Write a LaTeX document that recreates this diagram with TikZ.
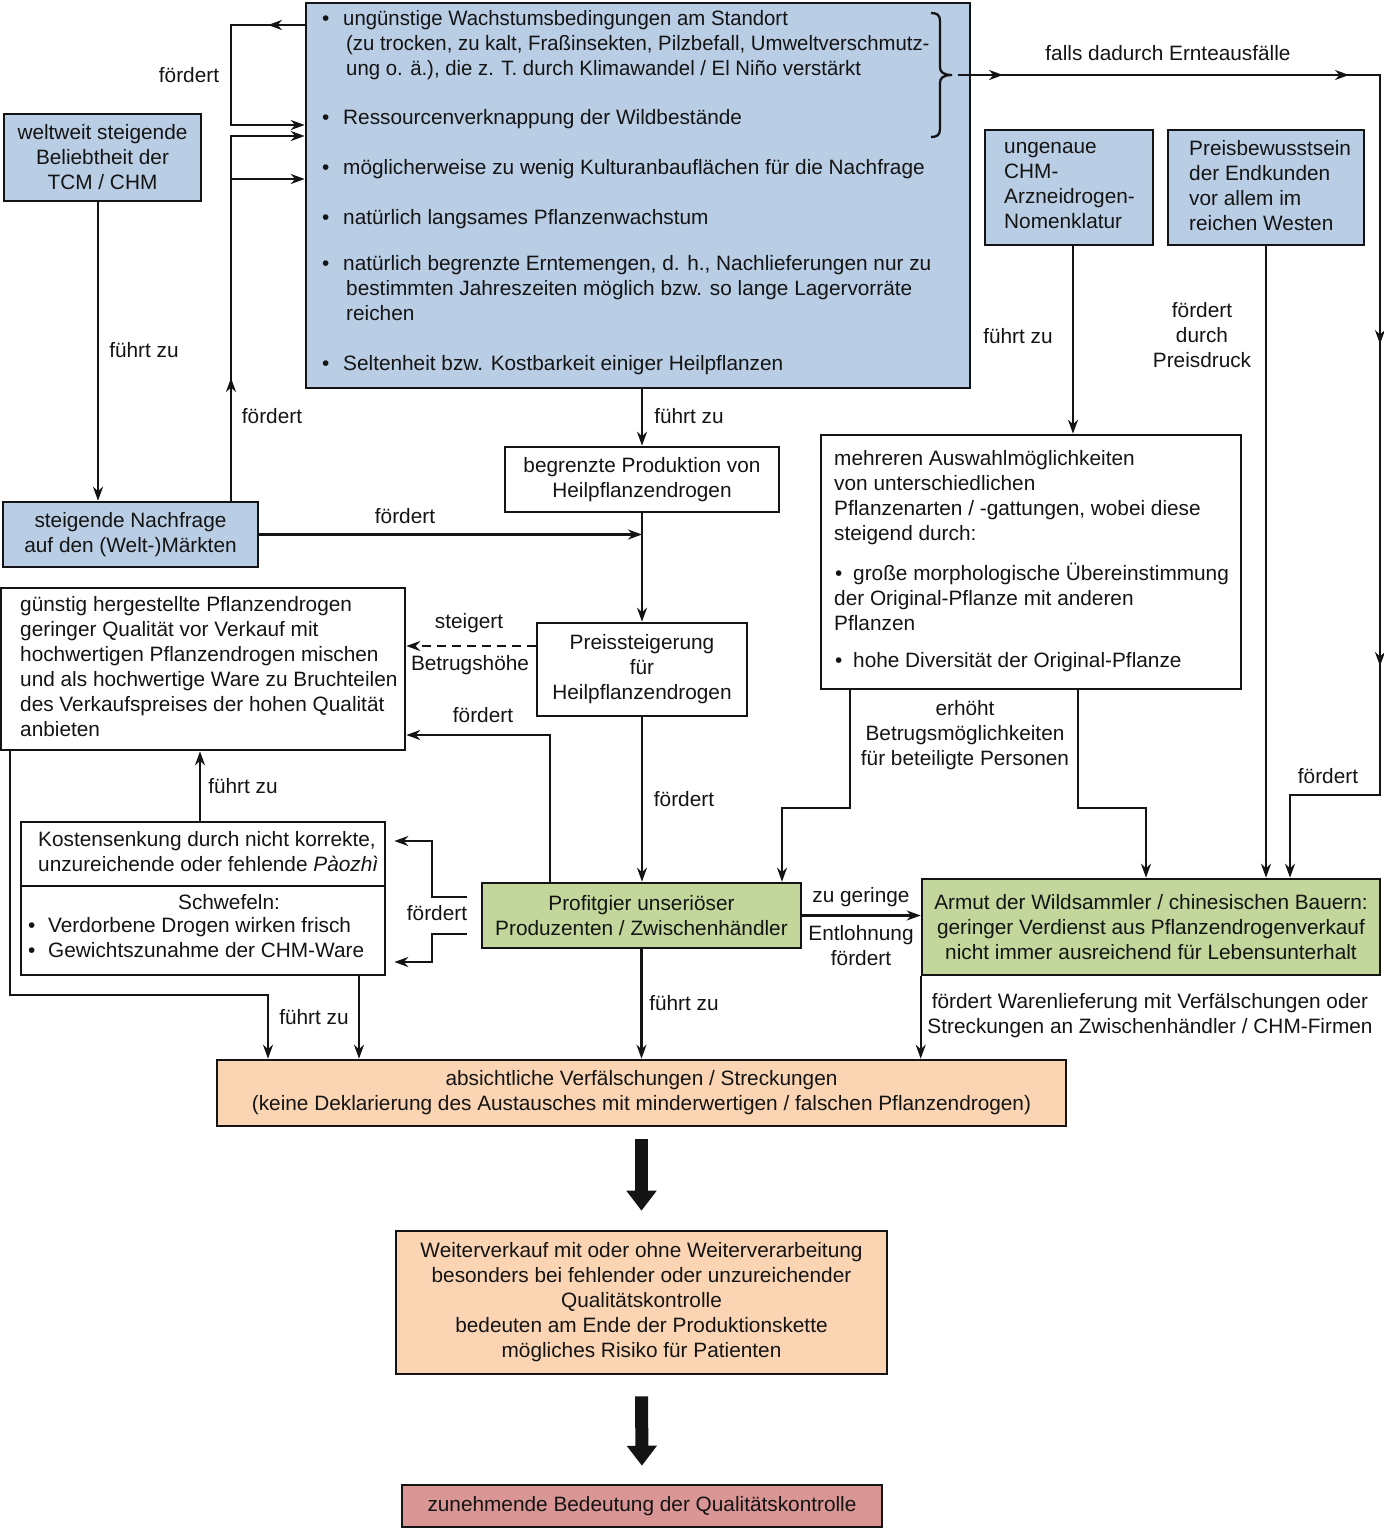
\documentclass[tikz,border=0pt]{standalone}
\usepackage{fontspec}
\setmainfont{Liberation Sans}
\usetikzlibrary{arrows.meta}
\definecolor{bblue}{HTML}{B9CDE5}
\definecolor{bgreen}{HTML}{C3D69B}
\definecolor{bpeach}{HTML}{FBD4B4}
\definecolor{bred}{HTML}{D99694}
\definecolor{ink}{HTML}{141414}
\newcommand\myfs{\fontsize{20.8}{25}\selectfont}
\newcommand\sq[1]{\scalebox{0.978}[1]{#1}}
\begin{document}
\begin{tikzpicture}[x=1pt,y=-1pt,
  box/.style={draw=ink, line width=2.6pt, inner sep=0pt, align=center, font=\myfs, text=ink},
  tl/.style={font=\myfs, inner sep=0pt, anchor=west, text height=14pt, text depth=4pt, text=ink},
  lbl/.style={font=\myfs, inner sep=0pt, align=center, text=ink},
  blk/.style={font=\myfs, inner sep=0pt, align=left, anchor=west, text=ink},
  arr/.style={draw=ink, line width=2.3pt, -{Stealth[length=14pt,width=10pt]}},
  ln/.style={draw=ink, line width=2.3pt},
  bigarr/.style={draw=ink, line width=13pt, -{Triangle[length=20pt,width=29pt]}}
]
\useasboundingbox (0,0) rectangle (1384,1529);

% ---------- boxes ----------
\node[box,fill=bblue,minimum width=664pt,minimum height=385pt] (top) at (638,195.5) {};
\node[box,fill=bblue,minimum width=197pt,minimum height=87pt] (welt) at (102.5,157.5) {weltweit steigende\\Beliebtheit der\\TCM / CHM};
\node[box,fill=bblue,minimum width=255pt,minimum height=65pt] (nach) at (130.5,534.5) {steigende Nachfrage\\auf den (Welt-)Märkten};
\node[box,fill=white,minimum width=274pt,minimum height=65pt] (begr) at (642,479.5) {begrenzte Produktion von\\Heilpflanzendrogen};
\node[box,fill=white,minimum width=210pt,minimum height=93pt] (preis) at (642,669.5) {Preissteigerung\\für\\Heilpflanzendrogen};
\node[box,fill=white,minimum width=404pt,minimum height=162pt] (guen) at (203,669) {};
\node[box,fill=white,minimum width=364pt,minimum height=153pt] (kost) at (203,898.5) {};
\node[box,fill=bgreen,minimum width=319pt,minimum height=65pt] (prof) at (641.5,915.5) {Profitgier unseriöser\\Produzenten / Zwischenhändler};
\node[box,fill=bgreen,minimum width=458pt,minimum height=96pt] (armut) at (1151,927) {Armut der Wildsammler / chinesischen Bauern:\\geringer Verdienst aus Pflanzendrogenverkauf\\nicht immer ausreichend für Lebensunterhalt};
\node[box,fill=bblue,minimum width=168pt,minimum height=115pt] (ungen) at (1069,187.5) {};
\node[box,fill=bblue,minimum width=196pt,minimum height=115pt] (pbew) at (1266,187.5) {};
\node[box,fill=white,minimum width=420pt,minimum height=254pt] (mehr) at (1031,562) {};
\node[box,fill=bpeach,minimum width=849pt,minimum height=66pt] (absi) at (641.5,1093) {absichtliche Verfälschungen / Streckungen\\(keine Deklarierung des Austausches mit minderwertigen / falschen Pflanzendrogen)};
\node[box,fill=bpeach,minimum width=491pt,minimum height=143pt] (weit) at (641.5,1302.5) {Weiterverkauf mit oder ohne Weiterverarbeitung\\besonders bei fehlender oder unzureichender\\Qualitätskontrolle\\bedeuten am Ende der Produktionskette\\mögliches Risiko für Patienten};
\node[box,fill=bred,minimum width=480pt,minimum height=42pt] (zun) at (642,1506) {zunehmende Bedeutung der Qualitätskontrolle};

% ---------- text in top box ----------
\node[tl] (b1) at (322,20) {\textbullet};
\node[tl] (t1a) at (343,20) {\sq{ungünstige Wachstumsbedingungen am Standort}};
\node[tl] (t1b) at (346,45) {\sq{(zu trocken, zu kalt, Fraßinsekten, Pilzbefall, Umweltverschmutz-}};
\node[tl] (t1c) at (346,70) {\sq{ung o. ä.), die z. T. durch Klimawandel / El Niño verstärkt}};
\node[tl] (b2) at (322,119) {\textbullet};
\node[tl] (t2) at (343,119) {Ressourcenverknappung der Wildbestände};
\node[tl] (b3) at (322,169) {\textbullet};
\node[tl] (t3) at (343,169) {möglicherweise zu wenig Kulturanbauflächen für die Nachfrage};
\node[tl] (b4) at (322,219) {\textbullet};
\node[tl] (t4) at (343,219) {natürlich langsames Pflanzenwachstum};
\node[tl] (b5) at (322,265) {\textbullet};
\node[tl] (t5a) at (343,265) {natürlich begrenzte Erntemengen, d. h., Nachlieferungen nur zu};
\node[tl] (t5b) at (346,290) {bestimmten Jahreszeiten möglich bzw. so lange Lagervorräte};
\node[tl] (t5c) at (346,315) {reichen};
\node[tl] (b6) at (322,365) {\textbullet};
\node[tl] (t6) at (343,365) {Seltenheit bzw. Kostbarkeit einiger Heilpflanzen};

% brace
\draw[ln] (931,13) .. controls (937,13) and (940,15) .. (940,21) -- (940,67)
  .. controls (940,72) and (943,75) .. (952,75)
  .. controls (943,75) and (940,78) .. (940,83) -- (940,129)
  .. controls (940,135) and (937,137) .. (931,137);
\coordinate (bt) at (952,75);

% ---------- text in other boxes ----------
\node[blk] (gtxt) at (20,666.5) {günstig hergestellte Pflanzendrogen\\geringer Qualität vor Verkauf mit\\hochwertigen Pflanzendrogen mischen\\und als hochwertige Ware zu Bruchteilen\\des Verkaufspreises der hohen Qualität\\anbieten};
\node[blk] (utxt) at (1004,185.5) {ungenaue\\CHM-\\Arzneidrogen-\\Nomenklatur};
\node[blk] (ptxt) at (1189,185.5) {Preisbewusstsein\\der Endkunden\\vor allem im\\reichen Westen};
\draw[ln,line width=2.6pt] (kost.west |- 0,886) -- (kost.east |- 0,886);
\node[tl] (k1) at (38,841) {Kostensenkung durch nicht korrekte,};
\node[tl] (k2) at (38,866) {unzureichende oder fehlende \textit{Pàozhì}};
\node[lbl] (k3) at (229,902) {Schwefeln:};
\node[tl] (k4b) at (28,927) {\textbullet};
\node[tl] (k4) at (48,927) {Verdorbene Drogen wirken frisch};
\node[tl] (k5b) at (28,952) {\textbullet};
\node[tl] (k5) at (48,952) {Gewichtszunahme der CHM-Ware};

\node[tl] (m1) at (834,460) {mehreren Auswahlmöglichkeiten};
\node[tl] (m2) at (834,485) {von unterschiedlichen};
\node[tl] (m3) at (834,510) {Pflanzenarten / -gattungen, wobei diese};
\node[tl] (m4) at (834,535) {steigend durch:};
\node[tl] (m5b) at (835,575) {\textbullet};
\node[tl] (m5) at (853,575) {große morphologische Übereinstimmung};
\node[tl] (m6) at (834,600) {der Original-Pflanze mit anderen};
\node[tl] (m7) at (834,625) {Pflanzen};
\node[tl] (m8b) at (835,662) {\textbullet};
\node[tl] (m8) at (853,662) {hohe Diversität der Original-Pflanze};

% ---------- connectors ----------
% loop at left of top box
\draw[arr] (top.west |- 0,25) -- (231,25) -- (231,125) -- (top.west |- 0,125);
\draw[arr] (295,25) -- (268,25);
% Nachfrage -> top box
\draw[arr] (nach.north -| 231,0) -- (231,136) -- (top.west |- 0,136);
\draw[arr] (231,179) -- (top.west |- 0,179);
\draw[arr] (231,400) -- (231,378);
% weltweit -> Nachfrage
\draw[arr] (welt.south -| 98,0) -- (nach.north -| 98,0);
% top -> begrenzte -> preis
\draw[arr] (top.south -| begr.north) -- (begr.north);
\draw[arr] (begr.south) -- (preis.north);
\draw[arr] (nach.east) -- (begr.south |- nach.east);
% preis -> guenstig (dashed)
\draw[arr,dash pattern=on 9pt off 6pt] (preis.west |- 0,646) -- (guen.east |- 0,646);
% preis -> profit
\draw[arr] (preis.south) -- (prof.north -| preis.south);
% profit -> guenstig
\draw[arr] (prof.north -| 550,0) -- (550,735) -- (guen.east |- 0,735);
% profit -> kosten
\draw[arr,shorten >=8pt,shorten <=14pt] (prof.west |- 0,897) -- (432,897) -- (432,841) -- (kost.east |- 0,841);
\draw[arr,shorten >=8pt,shorten <=14pt] (prof.west |- 0,934) -- (432,934) -- (432,962) -- (kost.east |- 0,962);
% kosten -> guenstig
\draw[arr] (kost.north -| 200,0) -- (guen.south -| 200,0);
% guenstig -> absichtlich
\draw[arr] (guen.south -| 10,0) -- (10,995) -- (268,995) -- (absi.north -| 268,0);
% kosten -> absichtlich
\draw[arr] (kost.south -| 359,0) -- (absi.north -| 359,0);
% profit -> absichtlich
\draw[arr] (prof.south) -- (absi.north -| prof.south);
% profit -> armut
\draw[arr] (prof.east) -- (armut.west |- prof.east);
% armut -> absichtlich
\draw[arr] (armut.south west) -- (absi.north -| armut.south west);
% ungenau -> mehr
\draw[arr] (ungen.south -| 1073,0) -- (mehr.north -| 1073,0);
% preisbewusst -> armut
\draw[arr] (pbew.south -| 1266,0) -- (armut.north -| 1266,0);
% mehr -> profit, mehr -> armut
\draw[arr] (mehr.south -| 850,0) -- (850,808) -- (782,808) -- (prof.north -| 782,0);
\draw[arr] (mehr.south -| 1078,0) -- (1078,808) -- (1146,808) -- (armut.north -| 1146,0);
% brace -> right loop -> armut
\draw[ln,dash pattern=on 0pt off 6pt on 12pt off 0pt] (bt) -- (top.east |- bt);
\draw[arr] (top.east |- bt) -- (1380,75) -- (1380,795) -- (1290,795) -- (armut.north -| 1290,0);
\draw[arr] (980,75) -- (1003,75);
\draw[arr] (1325,75) -- (1349,75);
\draw[arr] (1380,320) -- (1380,344);
\draw[arr] (1380,642) -- (1380,666);
% big arrows
\draw[bigarr,shorten <=12pt,shorten >=19pt] (absi.south) -- (weit.north);
\draw[bigarr,shorten <=21pt,shorten >=18pt] (weit.south) -- (zun.north);

% ---------- labels ----------
\node[lbl] (l1) at (189,75) {fördert};
\node[lbl] (l2) at (144,350) {führt zu};
\node[lbl] (l3) at (272,416) {fördert};
\node[lbl] (l4) at (689,416) {führt zu};
\node[lbl] (l5) at (405,516) {fördert};
\node[lbl] (l6) at (469,623) {steigert};
\node[lbl] (l7) at (470,665) {Betrugshöhe};
\node[lbl] (l8) at (483,715) {fördert};
\node[lbl] (l9) at (684,799) {fördert};
\node[lbl] (l10) at (243,786) {führt zu};
\node[lbl] (l11) at (437,913) {fördert};
\node[lbl] (l12) at (314,1017) {führt zu};
\node[lbl] (l13) at (684,1003) {führt zu};
\node[lbl] (l14) at (861,897) {zu geringe};
\node[lbl] (l15) at (861,946) {Entlohnung\\fördert};
\node[lbl] (l16) at (1150,1015.5) {fördert Warenlieferung mit Verfälschungen oder\\Streckungen an Zwischenhändler / CHM-Firmen};
\node[lbl] (l17) at (1168,53) {falls dadurch Ernteausfälle};
\node[lbl] (l18) at (1018,336) {führt zu};
\node[lbl] (l19) at (1202,335) {fördert\\durch\\Preisdruck};
\node[lbl] (l20) at (1328,776) {fördert};
\node[lbl] (l21) at (965,735) {erhöht\\Betrugsmöglichkeiten\\für beteiligte Personen};
\end{tikzpicture}
\end{document}
